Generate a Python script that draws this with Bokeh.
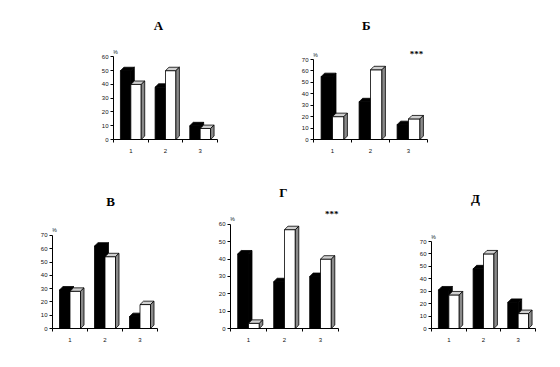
from bokeh.plotting import figure
from bokeh.layouts import column, row
from bokeh.models import Range1d, FixedTicker, Label
from bokeh.embed import file_html
from bokeh.resources import INLINE

categories = ["1", "2", "3"]
titles = ["А", "Б", "В", "Г", "Д"]
black_A = [50, 38, 10]
white_A = [40, 50, 8]
black_B = [55, 33, 13]
white_B = [20, 61, 18]
black_V = [29, 62, 9]
white_V = [28, 54, 18]
black_G = [43, 27, 30]
white_G = [3, 57, 40]
black_D = [31, 48, 21]
white_D = [27, 60, 12]
y_max = [60, 70, 70, 60, 70]
stars = ["", "***", "", "***", ""]

FONT = "Liberation Sans"


def make_chart(title, black, white, ymax, star, W, H, bl, br, bt, bb,
               title_x, title_dy, star_x=2.7, star_dy=8):
    fw = W - bl - br
    fh = H - bt - bb
    x_end = 3.0 * (W - bl) / fw
    y_end = ymax * (H - bb) / fh
    p = figure(width=W, height=H, output_backend="svg", toolbar_location=None,
               x_range=Range1d(0, x_end), y_range=Range1d(0, y_end),
               min_border_left=bl, min_border_right=0,
               min_border_top=0, min_border_bottom=bb)
    p.outline_line_color = None
    p.xgrid.visible = False
    p.ygrid.visible = False
    p.background_fill_color = "white"
    p.border_fill_color = "white"

    dx = 3.5 * 3 / fw
    dy = 3.5 * ymax / fh

    def bar3d(i, v, front, top, side, line):
        l = i + (0.20 if front == "black" else 0.50)
        r = l + 0.30
        p.quad(left=[l], right=[r], bottom=[0], top=[v], fill_color=front,
               line_color=line, line_width=0.8)
        p.patch([l, r, r + dx, l + dx], [v, v, v + dy, v + dy], fill_color=top,
                line_color=line, line_width=0.8)
        p.patch([r, r + dx, r + dx, r], [0, dy, v + dy, v], fill_color=side,
                line_color=line, line_width=0.8)

    for i in range(len(categories)):
        bar3d(i, black[i], "black", "black", "black", "black")
        bar3d(i, white[i], "white", "#cfcfcf", "#8a8a8a", "black")

    p.yaxis.ticker = FixedTicker(ticks=list(range(0, ymax + 1, 10)))
    p.yaxis.bounds = (0, ymax)
    p.yaxis.major_tick_out = 3
    p.yaxis.major_tick_in = 0
    p.yaxis.minor_tick_out = 0
    p.yaxis.minor_tick_in = 0
    p.yaxis.major_label_text_font_size = "6px"
    p.yaxis.major_label_text_font = FONT
    p.yaxis.major_label_standoff = 2

    centers = [i + 0.5 for i in range(len(categories))]
    p.xaxis.ticker = FixedTicker(ticks=centers,
                                 minor_ticks=list(range(len(categories) + 1)))
    p.xaxis.bounds = (0, 3)
    p.xaxis.major_label_overrides = {c: lab for c, lab in zip(centers, categories)}
    p.xaxis.major_tick_out = 0
    p.xaxis.major_tick_in = 0
    p.xaxis.minor_tick_out = 3
    p.xaxis.minor_tick_in = 0
    p.xaxis.major_label_text_font_size = "6px"
    p.xaxis.major_label_text_font = FONT
    p.xaxis.major_label_standoff = 6
    for ax in (p.xaxis, p.yaxis):
        ax.axis_line_width = 1
        ax.axis_line_color = "black"
        ax.major_label_text_color = "#111111"

    p.add_layout(Label(x=0, y=ymax, text="%", x_offset=-1, y_offset=2,
                       text_font=FONT, text_font_size="6px", text_color="#111111",
                       text_align="left", text_baseline="bottom"))
    p.add_layout(Label(x=title_x, y=ymax, text=title, y_offset=title_dy,
                       text_font="Liberation Serif", text_font_style="bold",
                       text_font_size="13px", text_color="black",
                       text_align="center", text_baseline="middle"))
    if star:
        p.add_layout(Label(x=star_x, y=ymax, text=star, y_offset=star_dy,
                           text_font="Liberation Serif", text_font_style="bold",
                           text_font_size="9px", text_color="black",
                           text_align="center", text_baseline="middle"))
    return p


pA = make_chart(titles[0], black_A, white_A, y_max[0], stars[0],
                278, 168, 113, 61, 58, 25, 1.30, 31)
pB = make_chart(titles[1], black_B, white_B, y_max[1], stars[1],
                274, 168, 35, 125, 59, 29, 1.39, 34, 2.71, 6)
pV = make_chart(titles[2], black_V, white_V, y_max[2], stars[2],
                180, 191, 52, 23, 69, 26, 1.66, 34)
pG = make_chart(titles[3], black_G, white_G, y_max[3], stars[3],
                200, 191, 50, 42, 57, 28, 1.47, 32, 2.81, 10)
pD = make_chart(titles[4], black_D, white_D, y_max[4], stars[4],
                172, 191, 51, 17, 73, 31, 1.27, 43)

layout = column(row(pA, pB), row(pV, pG, pD))
open("out.html", "w").write(file_html(layout, INLINE))
